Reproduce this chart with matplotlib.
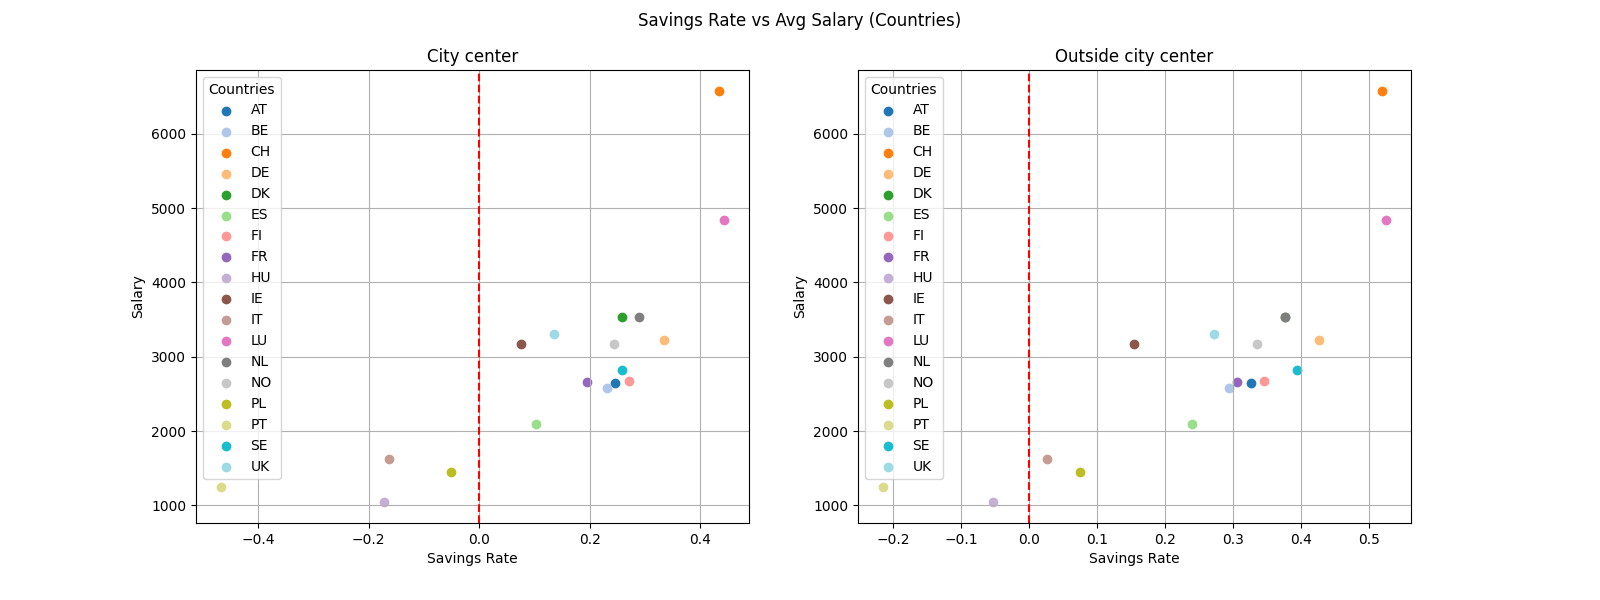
import numpy as np
import matplotlib
matplotlib.use("Agg")
import matplotlib.pyplot as plt

countries = ['AT', 'BE', 'CH', 'DE', 'DK', 'ES', 'FI', 'FR', 'HU',
             'IE', 'IT', 'LU', 'NL', 'NO', 'PL', 'PT', 'SE', 'UK']

# average salary (same in both panels)
salary = [2644, 2578, 6580, 3224, 3528, 2092, 2670, 2657, 1040,
          3171, 1620, 4842, 3528, 3171, 1449, 1251, 2815, 3303]

# savings rate, rent in city center
rate_center = [0.246, 0.232, 0.434, 0.335, 0.258, 0.1035, 0.272, 0.196, -0.173,
               0.0756, -0.163, 0.443, 0.290, 0.244, -0.0508, -0.467, 0.258, 0.135]

# savings rate, rent outside city center
rate_outside = [0.326, 0.294, 0.520, 0.427, 0.376, 0.240, 0.346, 0.306, -0.0525,
                0.154, 0.0268, 0.525, 0.376, 0.336, 0.0746, -0.2144, 0.395, 0.272]

colors = plt.cm.tab20(np.linspace(0, 1, len(countries)))

fig, axes = plt.subplots(1, 2, figsize=(16, 6))
fig.suptitle('Savings Rate vs Avg Salary (Countries)')

panels = [(axes[0], rate_center, 'City center'),
          (axes[1], rate_outside, 'Outside city center')]

for ax, rates, title in panels:
    for i, c in enumerate(countries):
        ax.scatter(rates[i], salary[i], color=colors[i], label=c)
    ax.axvline(0, color='red', linestyle='--')
    ax.set_title(title)
    ax.set_xlabel('Savings Rate')
    ax.set_ylabel('Salary')
    ax.grid(True)
    ax.legend(title='Countries', loc='upper left')

plt.subplots_adjust(left=196/1600, right=1411/1600, top=1-70/600,
                    bottom=1-523/600, wspace=109/553)
plt.savefig('out.png', dpi=100)
